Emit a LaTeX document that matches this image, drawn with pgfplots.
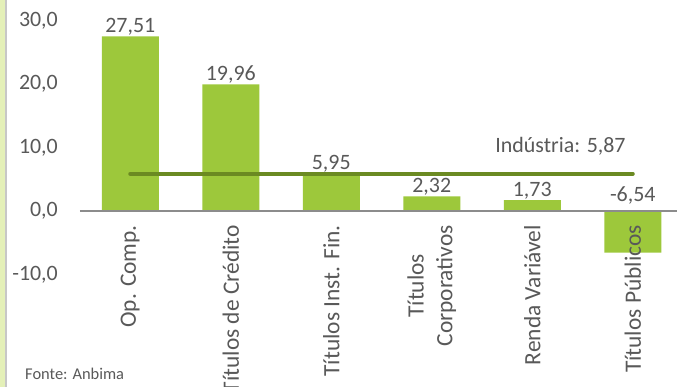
\documentclass[border=0pt]{standalone}
\usepackage{pgfplots}
\pgfplotsset{compat=1.18}
\usepackage{fontspec}
\setmainfont{Carlito}
\definecolor{barg}{HTML}{9DC83B}
\definecolor{lineg}{HTML}{6B8A22}
\definecolor{txt}{HTML}{595959}
\definecolor{axg}{HTML}{8C8C8C}
\definecolor{strip}{HTML}{E4F0B8}
\begin{document}
\begin{tikzpicture}
\clip (0,0) rectangle (677bp,-387bp);
\fill[white] (0,0) rectangle (677bp,-387bp);
\fill[strip] (0,0) rectangle (5bp,-387bp);
\draw[black!22, line width=1.2bp] (6bp,0) -- (6bp,-387bp);
\begin{axis}[
  at={(80bp,-20.5bp)}, anchor=north west,
  scale only axis, width=597bp, height=254bp,
  xmin=-0.5, xmax=5.44, ymin=-10, ymax=30,
  axis x line*=middle, axis y line*=left,
  axis on top,
  y axis line style={draw=none},
  x axis line style={draw=axg, line width=1.5bp},
  major tick length=0pt, tick style={draw=none},
  /pgf/number format/assume math mode=true,
  ytick={-10,0,10,20,30},
  yticklabel={\pgfmathprintnumber[fixed,fixed zerofill,precision=1,use comma,assume math mode=true]{\tick}},
  yticklabel style={font=\fontsize{22}{26}\selectfont, text=txt, inner sep=0pt, xshift=-22bp},
  xtick={0,1,2,3,4,5},
  xticklabels={Op. Comp., Títulos de Crédito, Títulos Inst. Fin., {Títulos\\Corporativos}, Renda Variável, Títulos Públicos},
  xticklabel style={font=\fontsize{23.5}{29}\selectfont, text=txt, rotate=90, anchor=east, align=center, inner sep=0pt, xshift=-14bp},
  clip=false,
]
\addplot[ybar, bar width=57bp, fill=barg, draw=none] coordinates {
  (0,27.51) (1,19.96) (2,5.95) (3,2.32) (4,1.73) (5,-6.54)
};
\addplot[draw=none, mark=none, nodes near coords, point meta=explicit,
  nodes near coords={\pgfmathprintnumber[fixed,fixed zerofill,precision=2,use comma,assume math mode=true]{\pgfplotspointmeta}},
  every node near coord/.append style={font=\fontsize{22}{26}\selectfont, text=txt, anchor=south, inner sep=0.5bp}]
  coordinates {
  (0,27.51) [27.51] (1,19.96) [19.96] (2,5.95) [5.95] (3,2.32) [2.32] (4,1.73) [1.73] (5,1.0) [-6.54]
};
\addplot[lineg, line width=4bp, line cap=round, mark=none] coordinates {(0,5.87) (5,5.87)};
\node[anchor=base east, font=\fontsize{22}{26}\selectfont, text=txt, inner sep=0pt] at ([yshift=21.5bp,xshift=-7bp]axis cs:5,5.87) {Indústria: 5,87};
\end{axis}
\node[anchor=base west, font=\fontsize{16.5}{20}\selectfont, text=txt, inner sep=0pt] at (25bp,-379bp) {Fonte: Anbima};
\end{tikzpicture}
\end{document}
